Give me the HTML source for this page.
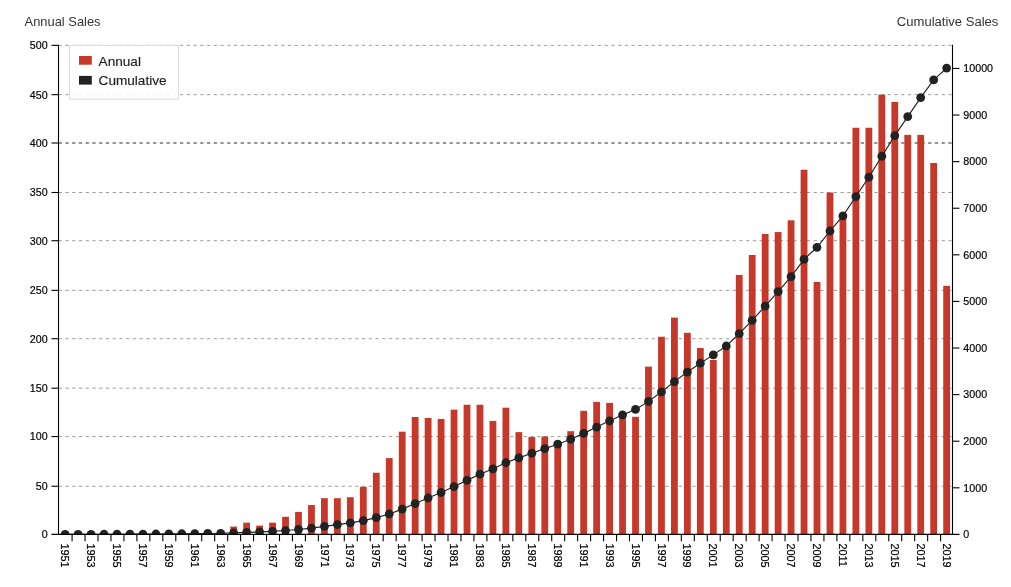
<!DOCTYPE html>
<html><head><meta charset="utf-8"><title>Annual and Cumulative Sales</title>
<style>
html,body{margin:0;padding:0;background:#fff;}
body{width:1011px;height:587px;position:relative;overflow:hidden;font-family:"Liberation Sans",sans-serif;}
svg{will-change:transform;}
</style></head><body>
<svg width="1011" height="587" viewBox="0 0 1011 587" style="position:absolute;left:0;top:0;font-family:'Liberation Sans',sans-serif">
<defs><clipPath id="cp"><rect x="58.50" y="35.15" width="896.00" height="499.26"/></clipPath></defs>
<g stroke="#9c9c9c" stroke-width="1" stroke-dasharray="3.2 3.54" fill="none">
<line x1="58.70" x2="952.50" y1="486.25" y2="486.25"/>
<line x1="58.70" x2="952.50" y1="436.56" y2="436.56"/>
<line x1="58.70" x2="952.50" y1="388.21" y2="388.21"/>
<line x1="58.70" x2="952.50" y1="338.71" y2="338.71"/>
<line x1="58.70" x2="952.50" y1="290.36" y2="290.36"/>
<line x1="58.70" x2="952.50" y1="240.70" y2="240.70"/>
<line x1="58.70" x2="952.50" y1="192.50" y2="192.50"/>
<line x1="58.70" x2="952.50" y1="143.00" y2="143.00" stroke-width="2" stroke="#939393"/>
<line x1="58.70" x2="952.50" y1="94.65" y2="94.65"/>
<line x1="58.70" x2="952.50" y1="45.35" y2="45.35"/>
</g>
<g fill="#c5382a" clip-path="url(#cp)">
<rect x="74.71" y="533.43" width="6.80" height="0.98"/>
<rect x="87.68" y="533.43" width="6.80" height="0.98"/>
<rect x="100.64" y="533.43" width="6.80" height="0.98"/>
<rect x="113.60" y="533.43" width="6.80" height="0.98"/>
<rect x="126.56" y="533.43" width="6.80" height="0.98"/>
<rect x="139.53" y="532.45" width="6.80" height="1.96"/>
<rect x="152.49" y="532.45" width="6.80" height="1.96"/>
<rect x="165.45" y="532.45" width="6.80" height="1.96"/>
<rect x="178.42" y="531.47" width="6.80" height="2.94"/>
<rect x="191.38" y="531.47" width="6.80" height="2.94"/>
<rect x="204.34" y="531.47" width="6.80" height="2.94"/>
<rect x="217.31" y="530.50" width="6.80" height="3.91"/>
<rect x="230.27" y="526.58" width="6.80" height="7.83"/>
<rect x="243.23" y="522.67" width="6.80" height="11.74"/>
<rect x="256.20" y="525.60" width="6.80" height="8.81"/>
<rect x="269.16" y="522.67" width="6.80" height="11.74"/>
<rect x="282.12" y="516.80" width="6.80" height="17.61"/>
<rect x="295.08" y="511.90" width="6.80" height="22.51"/>
<rect x="308.05" y="505.05" width="6.80" height="29.36"/>
<rect x="321.01" y="498.20" width="6.80" height="36.21"/>
<rect x="333.97" y="498.20" width="6.80" height="36.21"/>
<rect x="346.94" y="497.23" width="6.80" height="37.18"/>
<rect x="359.90" y="486.76" width="6.80" height="47.65"/>
<rect x="372.86" y="472.76" width="6.80" height="61.65"/>
<rect x="385.83" y="458.09" width="6.80" height="76.32"/>
<rect x="398.79" y="431.67" width="6.80" height="102.74"/>
<rect x="411.75" y="416.99" width="6.80" height="117.42"/>
<rect x="424.71" y="417.97" width="6.80" height="116.44"/>
<rect x="437.68" y="418.94" width="6.80" height="115.47"/>
<rect x="450.64" y="409.65" width="6.80" height="124.76"/>
<rect x="463.60" y="404.76" width="6.80" height="129.65"/>
<rect x="476.57" y="404.76" width="6.80" height="129.65"/>
<rect x="489.53" y="420.90" width="6.80" height="113.51"/>
<rect x="502.49" y="407.69" width="6.80" height="126.72"/>
<rect x="515.46" y="432.15" width="6.80" height="102.26"/>
<rect x="528.42" y="437.05" width="6.80" height="97.36"/>
<rect x="541.38" y="436.56" width="6.80" height="97.85"/>
<rect x="554.34" y="441.45" width="6.80" height="92.96"/>
<rect x="567.31" y="431.18" width="6.80" height="103.23"/>
<rect x="580.27" y="410.82" width="6.80" height="123.59"/>
<rect x="593.23" y="401.92" width="6.80" height="132.49"/>
<rect x="606.20" y="402.90" width="6.80" height="131.51"/>
<rect x="619.16" y="412.09" width="6.80" height="122.31"/>
<rect x="632.12" y="416.79" width="6.80" height="117.62"/>
<rect x="645.08" y="366.59" width="6.80" height="167.82"/>
<rect x="658.05" y="336.75" width="6.80" height="197.66"/>
<rect x="671.01" y="317.57" width="6.80" height="216.84"/>
<rect x="683.97" y="332.83" width="6.80" height="201.58"/>
<rect x="696.94" y="348.00" width="6.80" height="186.41"/>
<rect x="709.90" y="359.94" width="6.80" height="174.47"/>
<rect x="722.86" y="348.49" width="6.80" height="185.92"/>
<rect x="735.83" y="274.91" width="6.80" height="259.50"/>
<rect x="748.79" y="254.94" width="6.80" height="279.47"/>
<rect x="761.75" y="234.00" width="6.80" height="300.41"/>
<rect x="774.71" y="232.05" width="6.80" height="302.36"/>
<rect x="787.68" y="220.31" width="6.80" height="314.10"/>
<rect x="800.64" y="169.72" width="6.80" height="364.69"/>
<rect x="813.60" y="281.95" width="6.80" height="252.46"/>
<rect x="826.57" y="192.52" width="6.80" height="341.89"/>
<rect x="839.53" y="217.37" width="6.80" height="317.04"/>
<rect x="852.49" y="127.74" width="6.80" height="406.67"/>
<rect x="865.46" y="127.74" width="6.80" height="406.67"/>
<rect x="878.42" y="94.66" width="6.80" height="439.75"/>
<rect x="891.38" y="101.90" width="6.80" height="432.51"/>
<rect x="904.34" y="134.88" width="6.80" height="399.53"/>
<rect x="917.31" y="134.88" width="6.80" height="399.53"/>
<rect x="930.27" y="162.96" width="6.80" height="371.45"/>
<rect x="943.23" y="285.87" width="6.80" height="248.54"/>
</g>
<g clip-path="url(#cp)">
<polyline points="65.15,534.41 78.11,534.36 91.08,534.32 104.04,534.27 117.00,534.22 129.97,534.18 142.93,534.08 155.89,533.99 168.85,533.90 181.82,533.76 194.78,533.62 207.74,533.48 220.71,533.29 233.67,532.92 246.63,532.36 259.60,531.94 272.56,531.38 285.52,530.54 298.48,529.47 311.45,528.07 324.41,526.35 337.37,524.62 350.34,522.85 363.30,520.58 376.26,517.65 389.23,514.01 402.19,509.12 415.15,503.53 428.11,497.99 441.08,492.49 454.04,486.55 467.00,480.37 479.97,474.20 492.93,468.79 505.89,462.76 518.86,457.89 531.82,453.25 544.78,448.59 557.74,444.17 570.71,439.25 583.67,433.37 596.63,427.06 609.60,420.79 622.56,414.97 635.52,409.37 648.48,401.38 661.45,391.97 674.41,381.64 687.37,372.04 700.34,363.16 713.30,354.86 726.26,346.00 739.23,333.65 752.19,320.34 765.15,306.03 778.11,291.63 791.08,276.68 804.04,259.31 817.00,247.29 829.97,231.01 842.93,215.91 855.89,196.55 868.86,177.18 881.82,156.24 894.78,135.64 907.74,116.62 920.71,97.59 933.67,79.91 946.63,68.07" fill="none" stroke="#222222" stroke-width="1.15"/>
<circle cx="65.15" cy="534.41" r="4.4" fill="#222222"/>
<circle cx="78.11" cy="534.36" r="4.4" fill="#222222"/>
<circle cx="91.08" cy="534.32" r="4.4" fill="#222222"/>
<circle cx="104.04" cy="534.27" r="4.4" fill="#222222"/>
<circle cx="117.00" cy="534.22" r="4.4" fill="#222222"/>
<circle cx="129.97" cy="534.18" r="4.4" fill="#222222"/>
<circle cx="142.93" cy="534.08" r="4.4" fill="#222222"/>
<circle cx="155.89" cy="533.99" r="4.4" fill="#222222"/>
<circle cx="168.85" cy="533.90" r="4.4" fill="#222222"/>
<circle cx="181.82" cy="533.76" r="4.4" fill="#222222"/>
<circle cx="194.78" cy="533.62" r="4.4" fill="#222222"/>
<circle cx="207.74" cy="533.48" r="4.4" fill="#222222"/>
<circle cx="220.71" cy="533.29" r="4.4" fill="#222222"/>
<circle cx="233.67" cy="532.92" r="4.4" fill="#222222"/>
<circle cx="246.63" cy="532.36" r="4.4" fill="#222222"/>
<circle cx="259.60" cy="531.94" r="4.4" fill="#222222"/>
<circle cx="272.56" cy="531.38" r="4.4" fill="#222222"/>
<circle cx="285.52" cy="530.54" r="4.4" fill="#222222"/>
<circle cx="298.48" cy="529.47" r="4.4" fill="#222222"/>
<circle cx="311.45" cy="528.07" r="4.4" fill="#222222"/>
<circle cx="324.41" cy="526.35" r="4.4" fill="#222222"/>
<circle cx="337.37" cy="524.62" r="4.4" fill="#222222"/>
<circle cx="350.34" cy="522.85" r="4.4" fill="#222222"/>
<circle cx="363.30" cy="520.58" r="4.4" fill="#222222"/>
<circle cx="376.26" cy="517.65" r="4.4" fill="#222222"/>
<circle cx="389.23" cy="514.01" r="4.4" fill="#222222"/>
<circle cx="402.19" cy="509.12" r="4.4" fill="#222222"/>
<circle cx="415.15" cy="503.53" r="4.4" fill="#222222"/>
<circle cx="428.11" cy="497.99" r="4.4" fill="#222222"/>
<circle cx="441.08" cy="492.49" r="4.4" fill="#222222"/>
<circle cx="454.04" cy="486.55" r="4.4" fill="#222222"/>
<circle cx="467.00" cy="480.37" r="4.4" fill="#222222"/>
<circle cx="479.97" cy="474.20" r="4.4" fill="#222222"/>
<circle cx="492.93" cy="468.79" r="4.4" fill="#222222"/>
<circle cx="505.89" cy="462.76" r="4.4" fill="#222222"/>
<circle cx="518.86" cy="457.89" r="4.4" fill="#222222"/>
<circle cx="531.82" cy="453.25" r="4.4" fill="#222222"/>
<circle cx="544.78" cy="448.59" r="4.4" fill="#222222"/>
<circle cx="557.74" cy="444.17" r="4.4" fill="#222222"/>
<circle cx="570.71" cy="439.25" r="4.4" fill="#222222"/>
<circle cx="583.67" cy="433.37" r="4.4" fill="#222222"/>
<circle cx="596.63" cy="427.06" r="4.4" fill="#222222"/>
<circle cx="609.60" cy="420.79" r="4.4" fill="#222222"/>
<circle cx="622.56" cy="414.97" r="4.4" fill="#222222"/>
<circle cx="635.52" cy="409.37" r="4.4" fill="#222222"/>
<circle cx="648.48" cy="401.38" r="4.4" fill="#222222"/>
<circle cx="661.45" cy="391.97" r="4.4" fill="#222222"/>
<circle cx="674.41" cy="381.64" r="4.4" fill="#222222"/>
<circle cx="687.37" cy="372.04" r="4.4" fill="#222222"/>
<circle cx="700.34" cy="363.16" r="4.4" fill="#222222"/>
<circle cx="713.30" cy="354.86" r="4.4" fill="#222222"/>
<circle cx="726.26" cy="346.00" r="4.4" fill="#222222"/>
<circle cx="739.23" cy="333.65" r="4.4" fill="#222222"/>
<circle cx="752.19" cy="320.34" r="4.4" fill="#222222"/>
<circle cx="765.15" cy="306.03" r="4.4" fill="#222222"/>
<circle cx="778.11" cy="291.63" r="4.4" fill="#222222"/>
<circle cx="791.08" cy="276.68" r="4.4" fill="#222222"/>
<circle cx="804.04" cy="259.31" r="4.4" fill="#222222"/>
<circle cx="817.00" cy="247.29" r="4.4" fill="#222222"/>
<circle cx="829.97" cy="231.01" r="4.4" fill="#222222"/>
<circle cx="842.93" cy="215.91" r="4.4" fill="#222222"/>
<circle cx="855.89" cy="196.55" r="4.4" fill="#222222"/>
<circle cx="868.86" cy="177.18" r="4.4" fill="#222222"/>
<circle cx="881.82" cy="156.24" r="4.4" fill="#222222"/>
<circle cx="894.78" cy="135.64" r="4.4" fill="#222222"/>
<circle cx="907.74" cy="116.62" r="4.4" fill="#222222"/>
<circle cx="920.71" cy="97.59" r="4.4" fill="#222222"/>
<circle cx="933.67" cy="79.91" r="4.4" fill="#222222"/>
<circle cx="946.63" cy="68.07" r="4.4" fill="#222222"/>
</g>
<g stroke="#000" stroke-width="1.1" fill="none">
<path d="M58.50,44.65V534.91"/>
<path d="M952.50,44.65V534.91"/>
<path d="M51.50,534.41H959.50"/>
<line x1="51.50" x2="58.50" y1="486.25" y2="486.25"/>
<line x1="51.50" x2="58.50" y1="436.56" y2="436.56"/>
<line x1="51.50" x2="58.50" y1="388.21" y2="388.21"/>
<line x1="51.50" x2="58.50" y1="338.71" y2="338.71"/>
<line x1="51.50" x2="58.50" y1="290.36" y2="290.36"/>
<line x1="51.50" x2="58.50" y1="240.70" y2="240.70"/>
<line x1="51.50" x2="58.50" y1="192.50" y2="192.50"/>
<line x1="51.50" x2="58.50" y1="143.00" y2="143.00"/>
<line x1="51.50" x2="58.50" y1="94.65" y2="94.65"/>
<line x1="51.50" x2="58.50" y1="45.35" y2="45.35"/>
<line x1="952.50" x2="959.50" y1="487.81" y2="487.81"/>
<line x1="952.50" x2="959.50" y1="441.22" y2="441.22"/>
<line x1="952.50" x2="959.50" y1="394.62" y2="394.62"/>
<line x1="952.50" x2="959.50" y1="348.03" y2="348.03"/>
<line x1="952.50" x2="959.50" y1="301.43" y2="301.43"/>
<line x1="952.50" x2="959.50" y1="254.83" y2="254.83"/>
<line x1="952.50" x2="959.50" y1="208.24" y2="208.24"/>
<line x1="952.50" x2="959.50" y1="161.64" y2="161.64"/>
<line x1="952.50" x2="959.50" y1="115.04" y2="115.04"/>
<line x1="952.50" x2="959.50" y1="68.45" y2="68.45"/>
<line x1="72.08" x2="72.08" y1="534.41" y2="541.21"/>
<line x1="85.04" x2="85.04" y1="534.41" y2="541.21"/>
<line x1="98.01" x2="98.01" y1="534.41" y2="541.21"/>
<line x1="110.97" x2="110.97" y1="534.41" y2="541.21"/>
<line x1="123.93" x2="123.93" y1="534.41" y2="541.21"/>
<line x1="136.90" x2="136.90" y1="534.41" y2="541.21"/>
<line x1="149.86" x2="149.86" y1="534.41" y2="541.21"/>
<line x1="162.82" x2="162.82" y1="534.41" y2="541.21"/>
<line x1="175.79" x2="175.79" y1="534.41" y2="541.21"/>
<line x1="188.75" x2="188.75" y1="534.41" y2="541.21"/>
<line x1="201.71" x2="201.71" y1="534.41" y2="541.21"/>
<line x1="214.67" x2="214.67" y1="534.41" y2="541.21"/>
<line x1="227.64" x2="227.64" y1="534.41" y2="541.21"/>
<line x1="240.60" x2="240.60" y1="534.41" y2="541.21"/>
<line x1="253.56" x2="253.56" y1="534.41" y2="541.21"/>
<line x1="266.53" x2="266.53" y1="534.41" y2="541.21"/>
<line x1="279.49" x2="279.49" y1="534.41" y2="541.21"/>
<line x1="292.45" x2="292.45" y1="534.41" y2="541.21"/>
<line x1="305.42" x2="305.42" y1="534.41" y2="541.21"/>
<line x1="318.38" x2="318.38" y1="534.41" y2="541.21"/>
<line x1="331.34" x2="331.34" y1="534.41" y2="541.21"/>
<line x1="344.30" x2="344.30" y1="534.41" y2="541.21"/>
<line x1="357.27" x2="357.27" y1="534.41" y2="541.21"/>
<line x1="370.23" x2="370.23" y1="534.41" y2="541.21"/>
<line x1="383.19" x2="383.19" y1="534.41" y2="541.21"/>
<line x1="396.16" x2="396.16" y1="534.41" y2="541.21"/>
<line x1="409.12" x2="409.12" y1="534.41" y2="541.21"/>
<line x1="422.08" x2="422.08" y1="534.41" y2="541.21"/>
<line x1="435.05" x2="435.05" y1="534.41" y2="541.21"/>
<line x1="448.01" x2="448.01" y1="534.41" y2="541.21"/>
<line x1="460.97" x2="460.97" y1="534.41" y2="541.21"/>
<line x1="473.93" x2="473.93" y1="534.41" y2="541.21"/>
<line x1="486.90" x2="486.90" y1="534.41" y2="541.21"/>
<line x1="499.86" x2="499.86" y1="534.41" y2="541.21"/>
<line x1="512.82" x2="512.82" y1="534.41" y2="541.21"/>
<line x1="525.79" x2="525.79" y1="534.41" y2="541.21"/>
<line x1="538.75" x2="538.75" y1="534.41" y2="541.21"/>
<line x1="551.71" x2="551.71" y1="534.41" y2="541.21"/>
<line x1="564.68" x2="564.68" y1="534.41" y2="541.21"/>
<line x1="577.64" x2="577.64" y1="534.41" y2="541.21"/>
<line x1="590.60" x2="590.60" y1="534.41" y2="541.21"/>
<line x1="603.56" x2="603.56" y1="534.41" y2="541.21"/>
<line x1="616.53" x2="616.53" y1="534.41" y2="541.21"/>
<line x1="629.49" x2="629.49" y1="534.41" y2="541.21"/>
<line x1="642.45" x2="642.45" y1="534.41" y2="541.21"/>
<line x1="655.42" x2="655.42" y1="534.41" y2="541.21"/>
<line x1="668.38" x2="668.38" y1="534.41" y2="541.21"/>
<line x1="681.34" x2="681.34" y1="534.41" y2="541.21"/>
<line x1="694.31" x2="694.31" y1="534.41" y2="541.21"/>
<line x1="707.27" x2="707.27" y1="534.41" y2="541.21"/>
<line x1="720.23" x2="720.23" y1="534.41" y2="541.21"/>
<line x1="733.19" x2="733.19" y1="534.41" y2="541.21"/>
<line x1="746.16" x2="746.16" y1="534.41" y2="541.21"/>
<line x1="759.12" x2="759.12" y1="534.41" y2="541.21"/>
<line x1="772.08" x2="772.08" y1="534.41" y2="541.21"/>
<line x1="785.05" x2="785.05" y1="534.41" y2="541.21"/>
<line x1="798.01" x2="798.01" y1="534.41" y2="541.21"/>
<line x1="810.97" x2="810.97" y1="534.41" y2="541.21"/>
<line x1="823.94" x2="823.94" y1="534.41" y2="541.21"/>
<line x1="836.90" x2="836.90" y1="534.41" y2="541.21"/>
<line x1="849.86" x2="849.86" y1="534.41" y2="541.21"/>
<line x1="862.82" x2="862.82" y1="534.41" y2="541.21"/>
<line x1="875.79" x2="875.79" y1="534.41" y2="541.21"/>
<line x1="888.75" x2="888.75" y1="534.41" y2="541.21"/>
<line x1="901.71" x2="901.71" y1="534.41" y2="541.21"/>
<line x1="914.68" x2="914.68" y1="534.41" y2="541.21"/>
<line x1="927.64" x2="927.64" y1="534.41" y2="541.21"/>
<line x1="940.60" x2="940.60" y1="534.41" y2="541.21"/>
</g>
<g font-size="10.7" fill="#000" stroke="#000" stroke-width="0.18">
<text x="47.70" y="538.31" text-anchor="end">0</text>
<text x="47.70" y="490.15" text-anchor="end">50</text>
<text x="47.70" y="440.46" text-anchor="end">100</text>
<text x="47.70" y="392.11" text-anchor="end">150</text>
<text x="47.70" y="342.61" text-anchor="end">200</text>
<text x="47.70" y="294.26" text-anchor="end">250</text>
<text x="47.70" y="244.60" text-anchor="end">300</text>
<text x="47.70" y="196.40" text-anchor="end">350</text>
<text x="47.70" y="146.90" text-anchor="end">400</text>
<text x="47.70" y="98.55" text-anchor="end">450</text>
<text x="47.70" y="49.25" text-anchor="end">500</text>
<text x="963.30" y="538.26">0</text>
<text x="963.30" y="491.66">1000</text>
<text x="963.30" y="445.07">2000</text>
<text x="963.30" y="398.47">3000</text>
<text x="963.30" y="351.88">4000</text>
<text x="963.30" y="305.28">5000</text>
<text x="963.30" y="258.68">6000</text>
<text x="963.30" y="212.09">7000</text>
<text x="963.30" y="165.49">8000</text>
<text x="963.30" y="118.89">9000</text>
<text x="963.30" y="72.30">10000</text>
<text transform="translate(61.25,543.51) rotate(90)" font-size="10.85" x="0" y="0">1951</text>
<text transform="translate(87.18,543.51) rotate(90)" font-size="10.85" x="0" y="0">1953</text>
<text transform="translate(113.10,543.51) rotate(90)" font-size="10.85" x="0" y="0">1955</text>
<text transform="translate(139.03,543.51) rotate(90)" font-size="10.85" x="0" y="0">1957</text>
<text transform="translate(164.95,543.51) rotate(90)" font-size="10.85" x="0" y="0">1959</text>
<text transform="translate(190.88,543.51) rotate(90)" font-size="10.85" x="0" y="0">1961</text>
<text transform="translate(216.81,543.51) rotate(90)" font-size="10.85" x="0" y="0">1963</text>
<text transform="translate(242.73,543.51) rotate(90)" font-size="10.85" x="0" y="0">1965</text>
<text transform="translate(268.66,543.51) rotate(90)" font-size="10.85" x="0" y="0">1967</text>
<text transform="translate(294.58,543.51) rotate(90)" font-size="10.85" x="0" y="0">1969</text>
<text transform="translate(320.51,543.51) rotate(90)" font-size="10.85" x="0" y="0">1971</text>
<text transform="translate(346.44,543.51) rotate(90)" font-size="10.85" x="0" y="0">1973</text>
<text transform="translate(372.36,543.51) rotate(90)" font-size="10.85" x="0" y="0">1975</text>
<text transform="translate(398.29,543.51) rotate(90)" font-size="10.85" x="0" y="0">1977</text>
<text transform="translate(424.21,543.51) rotate(90)" font-size="10.85" x="0" y="0">1979</text>
<text transform="translate(450.14,543.51) rotate(90)" font-size="10.85" x="0" y="0">1981</text>
<text transform="translate(476.07,543.51) rotate(90)" font-size="10.85" x="0" y="0">1983</text>
<text transform="translate(501.99,543.51) rotate(90)" font-size="10.85" x="0" y="0">1985</text>
<text transform="translate(527.92,543.51) rotate(90)" font-size="10.85" x="0" y="0">1987</text>
<text transform="translate(553.84,543.51) rotate(90)" font-size="10.85" x="0" y="0">1989</text>
<text transform="translate(579.77,543.51) rotate(90)" font-size="10.85" x="0" y="0">1991</text>
<text transform="translate(605.70,543.51) rotate(90)" font-size="10.85" x="0" y="0">1993</text>
<text transform="translate(631.62,543.51) rotate(90)" font-size="10.85" x="0" y="0">1995</text>
<text transform="translate(657.55,543.51) rotate(90)" font-size="10.85" x="0" y="0">1997</text>
<text transform="translate(683.47,543.51) rotate(90)" font-size="10.85" x="0" y="0">1999</text>
<text transform="translate(709.40,543.51) rotate(90)" font-size="10.85" x="0" y="0">2001</text>
<text transform="translate(735.33,543.51) rotate(90)" font-size="10.85" x="0" y="0">2003</text>
<text transform="translate(761.25,543.51) rotate(90)" font-size="10.85" x="0" y="0">2005</text>
<text transform="translate(787.18,543.51) rotate(90)" font-size="10.85" x="0" y="0">2007</text>
<text transform="translate(813.10,543.51) rotate(90)" font-size="10.85" x="0" y="0">2009</text>
<text transform="translate(839.03,543.51) rotate(90)" font-size="10.85" x="0" y="0">2011</text>
<text transform="translate(864.96,543.51) rotate(90)" font-size="10.85" x="0" y="0">2013</text>
<text transform="translate(890.88,543.51) rotate(90)" font-size="10.85" x="0" y="0">2015</text>
<text transform="translate(916.81,543.51) rotate(90)" font-size="10.85" x="0" y="0">2017</text>
<text transform="translate(942.73,543.51) rotate(90)" font-size="10.85" x="0" y="0">2019</text>
</g>
<rect x="69.5" y="45.5" width="109" height="53.7" fill="#fff" fill-opacity="0.88" stroke="#dcdcdc" stroke-width="1"/>
<rect x="79" y="56" width="12.8" height="8.7" fill="#c5382a"/>
<rect x="79" y="75.9" width="12.8" height="8.7" fill="#222222"/>
<g font-size="13.6" fill="#1c1c1c" stroke="#1c1c1c" stroke-width="0.15"><text x="98.6" y="66.1">Annual</text><text x="98.6" y="85.3">Cumulative</text></g>
<g fill="#343434"><text x="24.6" y="25.6" font-size="12.9">Annual Sales</text><text x="998.4" y="25.6" font-size="13.05" text-anchor="end">Cumulative Sales</text></g>
</svg>
</body></html>
